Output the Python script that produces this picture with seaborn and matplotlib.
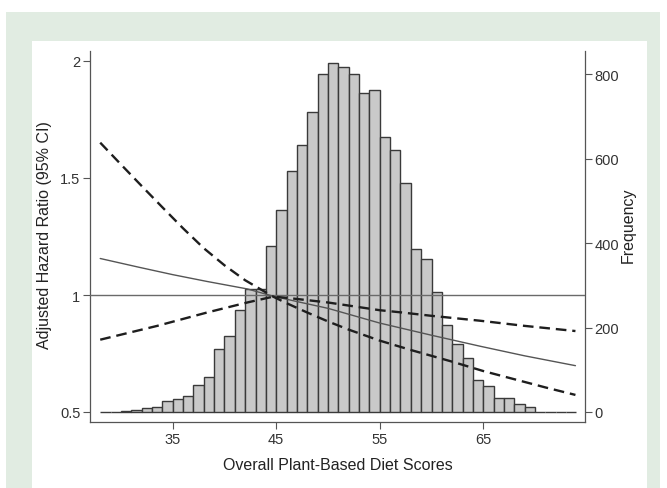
import numpy as np
import pandas as pd
import matplotlib
matplotlib.use("Agg")
import matplotlib.pyplot as plt
from matplotlib.patches import Rectangle
import seaborn as sns

# ---------------- data ----------------
bin_left = list(range(28, 74))
counts = [0, 1, 3, 5, 9, 12, 26, 30, 38, 65, 83, 150, 179, 241, 292, 292, 394, 477,
          570, 631, 711, 799, 825, 816, 799, 754, 761, 651, 621, 541, 386, 362, 285,
          206, 161, 128, 76, 62, 33, 32, 18, 11, 0, 0, 0, 0]

hr_x = [28, 31.8, 35, 38.3, 42.2, 44.7, 47, 50, 55, 60, 64.7, 69, 73.9]
hr_y = [1.156, 1.118, 1.087, 1.058, 1.026, 0.995, 0.972, 0.943, 0.880, 0.828, 0.781, 0.740, 0.698]

ciA_x = [28, 30, 32, 34, 36, 38, 40, 42, 44.7, 46, 48, 50, 52, 55, 58, 60, 62, 65, 68, 71, 73.9]
ciA_y = [1.651, 1.558, 1.466, 1.375, 1.285, 1.2, 1.127, 1.063, 0.993, 0.965, 0.925, 0.887, 0.852,
         0.805, 0.765, 0.74, 0.715, 0.675, 0.64, 0.605, 0.573]

ciB_x = [28, 33.5, 38.3, 42.2, 44.7, 46, 50, 55, 57, 60, 64.7, 69, 73.9]
ciB_y = [0.809, 0.868, 0.925, 0.968, 0.993, 0.988, 0.968, 0.935, 0.926, 0.911, 0.89, 0.868, 0.846]

x_ticks = [35, 45, 55, 65]
hr_ticks = [0.5, 1, 1.5, 2]
hr_tick_labels = ["0.5", "1", "1.5", "2"]
freq_ticks = [0, 200, 400, 600, 800]

# ---------------- style ----------------
sns.set_style("ticks")
plt.rcParams["font.family"] = ["Liberation Sans", "DejaVu Sans"]

W, H = 667, 489
fig = plt.figure(figsize=(W / 100, H / 100), dpi=100)
fig.patch.set_facecolor("white")
fig.add_artist(Rectangle((6 / W, 0), (660 - 6) / W, (H - 13) / H, transform=fig.transFigure,
                         facecolor="#e1ece2", edgecolor="none", zorder=0))
fig.add_artist(Rectangle((32 / W, 0), (647 - 32) / W, (H - 42) / H, transform=fig.transFigure,
                         facecolor="white", edgecolor="none", zorder=0))

L, R, T, B = 90, 585, 52, 423
ax_h = fig.add_axes([L / W, (H - B) / H, (R - L) / W, (B - T) / H])
ax_h.patch.set_alpha(0)
ax_r = ax_h.twinx()

# histogram (frequency axis, right)
hist_df = pd.DataFrame({"score": [b + 0.5 for b in bin_left], "count": counts})
sns.histplot(data=hist_df, x="score", weights="count", binwidth=1, binrange=(28, 74), ax=ax_h,
             color="#c9c9c9", edgecolor="#3a3a3a", linewidth=1.0, alpha=1)

# HR lines (left axis)
ax_r.axhline(1, color="#6a6a6a", lw=1.0, zorder=1)
sns.lineplot(x=hr_x, y=hr_y, ax=ax_r, color="#555555", lw=1.0)
sns.lineplot(x=ciA_x, y=ciA_y, ax=ax_r, color="#1e1e1e", lw=1.7, linestyle=(0, (4.5, 2.5)))
sns.lineplot(x=ciB_x, y=ciB_y, ax=ax_r, color="#1e1e1e", lw=1.7, linestyle=(0, (4.5, 2.5)))

px_f = (413 - 75) / 800
ax_h.set_ylim(-(423 - 413) / px_f, 800 + (75 - 52) / px_f)
px_hr = (413 - 62) / 1.5
ax_r.set_ylim(0.5 - (423 - 413) / px_hr, 2 + (62 - 52) / px_hr)
px_x = (483.3 - 172.7) / 30
ax_h.set_xlim(35 - (172.7 - L) / px_x, 65 + (R - 483.3) / px_x)

ax_h.yaxis.tick_right()
ax_r.yaxis.tick_left()

ax_h.set_xticks(x_ticks)
ax_h.set_yticks(freq_ticks)
ax_r.set_yticks(hr_ticks)
ax_r.set_yticklabels(hr_tick_labels)

for a in (ax_h, ax_r):
    a.tick_params(length=5, width=0.8, color="#555555", labelcolor="#333333", labelsize=10.5, pad=2)
    for s in a.spines.values():
        s.set_visible(False)
for s in ("left", "right", "bottom"):
    ax_h.spines[s].set_visible(True)
    ax_h.spines[s].set_color("#555555")
    ax_h.spines[s].set_linewidth(0.9)

ax_h.set_xlabel("Overall Plant-Based Diet Scores", fontsize=11.5, color="#222222", labelpad=8)
ax_h.set_ylabel("")
ax_r.set_ylabel("")
fig.text(45 / W, 1 - 235 / H, "Adjusted Hazard Ratio (95% CI)", rotation=90, ha="center",
         va="center", fontsize=11.5, color="#222222")
fig.text(628 / W, 1 - 225 / H, "Frequency", rotation=90, ha="center", va="center",
         fontsize=11.5, color="#222222")

fig.savefig("out.png", dpi=100, facecolor=fig.get_facecolor())
